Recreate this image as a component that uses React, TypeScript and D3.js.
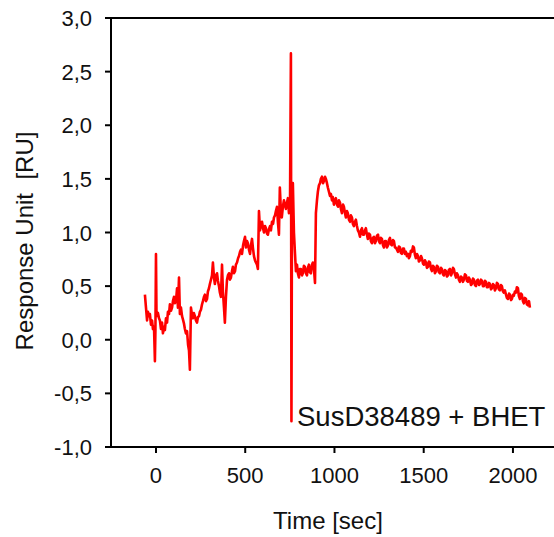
import React from "react";
import * as d3 from "d3";

// [time (sec), response (RU)] — before and during injection
const associationPhase: [number, number][] = [
  [-62, 0.42], [-56, 0.30], [-50, 0.18], [-45, 0.26], [-39, 0.22], [-34, 0.24], [-28, 0.14], [-22, 0.18],
  [-17, 0.10], [-11, 0.12], [-6, -0.20], [-3, 0.10], [0, 0.80], [3, 0.22], [11, 0.25], [17, 0.20], [22, 0.18],
  [28, 0.10], [34, 0.16], [39, 0.06], [45, 0.12], [50, 0.09], [56, 0.20], [62, 0.16], [67, 0.26], [73, 0.24],
  [78, 0.33], [84, 0.27], [90, 0.30], [95, 0.36], [101, 0.40], [106, 0.34], [112, 0.36], [118, 0.48], [123, 0.30],
  [129, 0.58], [134, 0.24], [140, 0.30], [146, 0.22], [151, 0.19], [157, 0.15], [162, 0.10], [168, 0.06],
  [174, 0.08], [180, -0.05], [185, -0.10], [190, -0.28], [196, 0.30], [201, 0.24], [207, 0.20], [212, 0.25],
  [218, 0.22], [224, 0.18], [230, 0.16], [235, 0.21], [241, 0.22], [246, 0.26], [252, 0.28], [258, 0.33],
  [263, 0.36], [269, 0.40], [274, 0.42], [280, 0.36], [286, 0.38], [291, 0.45], [297, 0.48], [302, 0.52],
  [308, 0.56], [314, 0.60], [319, 0.72], [325, 0.58], [330, 0.52], [336, 0.60], [342, 0.62], [347, 0.55],
  [353, 0.50], [358, 0.44], [364, 0.40], [370, 0.70], [375, 0.45], [381, 0.30], [386, 0.16], [392, 0.40],
  [398, 0.56], [403, 0.60], [409, 0.62], [414, 0.56], [420, 0.58], [426, 0.64], [431, 0.68], [437, 0.62],
  [443, 0.64], [448, 0.70], [454, 0.72], [460, 0.76], [465, 0.78], [471, 0.82], [476, 0.84], [482, 0.80],
  [488, 0.88], [493, 0.92], [499, 0.96], [504, 0.86], [510, 0.92], [515, 0.90], [521, 0.84], [527, 0.80],
  [532, 0.88], [538, 0.94], [543, 0.86], [549, 0.78], [555, 0.74], [560, 0.72], [566, 0.70], [571, 0.66],
  [577, 1.20], [583, 1.02], [588, 1.06], [594, 1.10], [600, 1.04], [605, 1.00], [611, 1.06], [616, 1.04],
  [622, 0.99], [627, 0.98], [633, 1.03], [639, 1.06], [644, 1.02], [650, 1.10], [656, 1.08], [661, 1.14],
  [667, 1.16], [672, 1.20], [678, 1.24], [683, 1.10], [689, 0.98], [694, 1.42], [700, 1.20], [705, 1.14],
  [711, 1.24], [717, 1.30], [722, 1.26], [728, 1.22], [734, 1.28], [739, 1.32], [745, 1.18], [751, 1.30],
  [756, 2.67], [759, -0.76], [762, 1.20], [767, 1.46], [773, 1.00], [779, 0.80],
];

// [time (sec), response (RU)] — buffer step and dissociation
const dissociationPhase: [number, number][] = [
  [784, 0.64], [790, 0.70], [795, 0.62], [801, 0.58], [806, 0.66], [812, 0.66], [818, 0.60], [823, 0.62],
  [829, 0.69], [834, 0.68], [840, 0.62], [846, 0.60], [851, 0.67], [857, 0.70], [862, 0.63], [868, 0.62],
  [874, 0.70], [879, 0.72], [885, 0.66], [891, 0.53], [896, 1.18], [902, 1.30], [907, 1.38], [913, 1.44],
  [919, 1.46], [924, 1.50], [930, 1.52], [936, 1.46], [941, 1.48], [947, 1.52], [952, 1.50], [958, 1.46],
  [963, 1.42], [969, 1.38], [975, 1.34], [980, 1.36], [986, 1.30], [991, 1.33], [997, 1.26], [1003, 1.30],
  [1008, 1.32], [1014, 1.26], [1020, 1.24], [1025, 1.30], [1031, 1.28], [1036, 1.22], [1042, 1.18], [1048, 1.26],
  [1053, 1.24], [1059, 1.18], [1064, 1.14], [1070, 1.20], [1075, 1.18], [1081, 1.12], [1087, 1.10], [1092, 1.16],
  [1098, 1.14], [1103, 1.08], [1109, 1.06], [1115, 1.10], [1120, 1.12], [1126, 1.06], [1131, 1.02], [1137, 1.00],
  [1143, 0.96], [1148, 1.02], [1154, 1.04], [1159, 0.98], [1165, 0.98], [1171, 1.02], [1176, 1.04], [1182, 0.98],
  [1187, 0.94], [1193, 0.99], [1199, 0.98], [1204, 0.92], [1210, 0.90], [1216, 0.95], [1221, 0.96], [1227, 0.90],
  [1232, 0.92], [1238, 0.97], [1244, 0.98], [1249, 0.92], [1255, 0.90], [1260, 0.95], [1266, 0.94], [1272, 0.88],
  [1277, 0.86], [1283, 0.92], [1288, 0.92], [1294, 0.86], [1300, 0.88], [1305, 0.93], [1311, 0.95], [1316, 0.89],
  [1322, 0.88], [1328, 0.93], [1333, 0.92], [1339, 0.86], [1344, 0.86], [1350, 0.84], [1356, 0.82], [1361, 0.87],
  [1367, 0.86], [1372, 0.81], [1378, 0.80], [1384, 0.85], [1389, 0.85], [1395, 0.80], [1400, 0.82], [1406, 0.78],
  [1412, 0.80], [1417, 0.76], [1423, 0.78], [1428, 0.83], [1434, 0.82], [1440, 0.87], [1445, 0.86], [1451, 0.79],
  [1456, 0.76], [1462, 0.80], [1468, 0.78], [1473, 0.73], [1479, 0.74], [1485, 0.78], [1490, 0.76], [1496, 0.71],
  [1501, 0.70], [1507, 0.74], [1513, 0.72], [1518, 0.67], [1524, 0.68], [1529, 0.73], [1535, 0.72], [1541, 0.66],
  [1546, 0.64], [1552, 0.69], [1557, 0.68], [1563, 0.62], [1569, 0.64], [1574, 0.69], [1580, 0.68], [1585, 0.63],
  [1591, 0.62], [1597, 0.67], [1602, 0.66], [1608, 0.61], [1613, 0.60], [1619, 0.65], [1625, 0.64], [1630, 0.59],
  [1636, 0.60], [1641, 0.65], [1647, 0.66], [1653, 0.60], [1658, 0.62], [1664, 0.67], [1669, 0.66], [1675, 0.61],
  [1681, 0.58], [1686, 0.62], [1692, 0.60], [1697, 0.56], [1703, 0.54], [1709, 0.59], [1714, 0.58], [1720, 0.54],
  [1725, 0.56], [1731, 0.61], [1737, 0.60], [1742, 0.55], [1748, 0.54], [1753, 0.58], [1759, 0.56], [1765, 0.51],
  [1770, 0.52], [1776, 0.57], [1781, 0.56], [1787, 0.51], [1793, 0.50], [1798, 0.55], [1804, 0.56], [1810, 0.51],
  [1815, 0.52], [1821, 0.56], [1826, 0.55], [1832, 0.50], [1837, 0.50], [1843, 0.55], [1849, 0.54], [1854, 0.49],
  [1860, 0.49], [1866, 0.53], [1871, 0.52], [1877, 0.47], [1882, 0.48], [1888, 0.52], [1893, 0.51], [1899, 0.46],
  [1905, 0.48], [1910, 0.53], [1916, 0.52], [1921, 0.47], [1927, 0.46], [1933, 0.51], [1938, 0.50], [1944, 0.45],
  [1949, 0.44], [1955, 0.46], [1961, 0.42], [1966, 0.39], [1972, 0.38], [1978, 0.43], [1983, 0.42], [1989, 0.37],
  [1994, 0.38], [2000, 0.42], [2005, 0.41], [2011, 0.45], [2017, 0.44], [2022, 0.49], [2028, 0.48], [2033, 0.41],
  [2039, 0.38], [2045, 0.43], [2050, 0.42], [2056, 0.36], [2061, 0.34], [2067, 0.39], [2073, 0.38], [2078, 0.33],
  [2084, 0.32], [2090, 0.36], [2095, 0.30],
];

const xTicks: number[] = [0, 500, 1000, 1500, 2000];
const yTicks: number[] = [-1, -0.5, 0, 0.5, 1, 1.5, 2, 2.5, 3];
const xLabel = "Time [sec]";
const yLabel = "Response Unit  [RU]";
const annotation = "SusD38489 + BHET";

const W = 554;
const H = 537;
const FONT = "'Liberation Sans', Arial, Helvetica, sans-serif";

export default function App() {
  const x = d3.scaleLinear().domain([-252, 2230]).range([111, 554]);
  const y = d3.scaleLinear().domain([-1, 3]).range([447, 18]);
  const fmt = (v: number) => d3.format(".1f")(v).replace(".", ",").replace("\u2212", "-");
  const pts: [number, number][] = [...associationPhase, ...dissociationPhase];
  const line = d3
    .line<[number, number]>()
    .x((d) => x(d[0]))
    .y((d) => y(d[1]));
  const [x0, x1] = x.range();
  const [yb, yt] = y.range();

  return (
    <svg
      width={W}
      height={H}
      style={{ position: "absolute", left: 0, top: 0, background: "#fff" }}
      fontFamily={FONT}
    >
      <rect x={0} y={0} width={W} height={H} fill="#fff" />
      <path d={line(pts) || ""} fill="none" stroke="#ff0000" strokeWidth={2.6} strokeLinejoin="round" />
      <line x1={x0} x2={x0} y1={yt} y2={yb} stroke="#000" strokeWidth={2} />
      <line x1={x0} x2={x1} y1={yb} y2={yb} stroke="#000" strokeWidth={2} />
      <line x1={x0} x2={x1} y1={yt} y2={yt} stroke="#000" strokeWidth={2} />
      {yTicks.map((v) => (
        <g key={"y" + v}>
          <line x1={x0 - 6} x2={x0} y1={y(v)} y2={y(v)} stroke="#000" strokeWidth={2} />
          <text x={92} y={y(v) + 8} textAnchor="end" fontSize={22} fill="#111">
            {fmt(v)}
          </text>
        </g>
      ))}
      {xTicks.map((v) => (
        <g key={"x" + v}>
          <line x1={x(v)} x2={x(v)} y1={yb} y2={yb + 6} stroke="#000" strokeWidth={2} />
          <text x={x(v)} y={483} textAnchor="middle" fontSize={22} fill="#111">
            {String(v)}
          </text>
        </g>
      ))}
      <text x={328} y={529} textAnchor="middle" fontSize={24} fill="#111">
        {xLabel}
      </text>
      <text
        transform={`translate(33, 241) rotate(-90)`}
        textAnchor="middle"
        fontSize={24}
        fill="#111"
        style={{ whiteSpace: "pre" }}
      >
        {yLabel}
      </text>
      <text x={297} y={426} fontSize={27.5} fill="#111">
        {annotation}
      </text>
    </svg>
  );
}
